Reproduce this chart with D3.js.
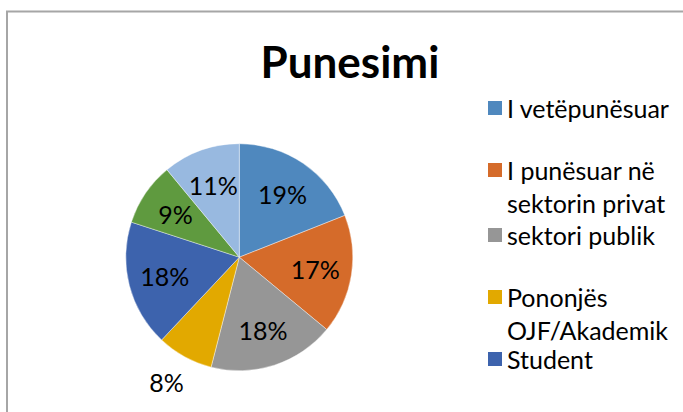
<!DOCTYPE html>
<html><head><meta charset="utf-8">
<script src="https://cdn.jsdelivr.net/npm/d3@7"></script>
<style>html,body{margin:0;padding:0;background:#fff;overflow:hidden}</style>
</head><body><svg id="c" width="683" height="412"></svg>
<script>
const title = "Punesimi";
const sliceValues = [19, 17, 18, 8, 18, 9, 11];
const sliceColors = ["#4F88BE", "#D56B2A", "#969696", "#E2A900", "#3D63AD", "#5F9A3F", "#98B9E0"];
const legendLabels = [["I vetëpunësuar"], ["I punësuar në", "sektorin privat"], ["sektori publik"], ["Pononjës", "OJF/Akademik"], ["Student"]];

const svg = d3.select("#c");
const font = "Lato, 'Open Sans', sans-serif";

// chart border
svg.append("path").attr("d", "M7,420 L7,11.5 L700,11.5").attr("fill", "none").attr("stroke", "#A6A6A6").attr("stroke-width", 2);

svg.append("text").attr("x", 350).attr("y", 78).attr("text-anchor", "middle")
  .attr("font-family", font).attr("font-weight", 700).attr("font-size", 44).attr("fill", "#000").text(title);

const cx = 239.3, cy = 257.2, R = 113.5;
const pie = d3.pie().sort(null).value(d => d);
const arcs = pie(sliceValues);
const arc = d3.arc().innerRadius(0).outerRadius(R);
const g = svg.append("g").attr("transform", `translate(${cx},${cy})`);
g.selectAll("path.s").data(arcs).join("path").attr("class", "s")
  .attr("d", arc).attr("fill", (d, i) => sliceColors[i]).attr("stroke", "#fff").attr("stroke-width", 0.4);

const total = d3.sum(sliceValues);
g.selectAll("text.l").data(arcs).join("text").attr("class", "l")
  .each(function(d) {
    const a = (d.startAngle + d.endAngle) / 2;
    const r = d.data / total < 0.085 ? 143 : 77;
    d3.select(this).attr("x", Math.sin(a) * r - (r > 100 ? 4 : 0)).attr("y", -Math.cos(a) * r);
  })
  .attr("text-anchor", "middle").attr("dominant-baseline", "central")
  .attr("font-family", font).attr("font-size", 25).attr("fill", "#000")
  .text(d => Math.round(d.data / total * 100) + "%");

// legend
const rowY = [108, 170, 235, 297, 359];
const lineH = 32.5;
const lg = svg.append("g");
legendLabels.forEach((lines, i) => {
  lg.append("rect").attr("x", 488).attr("y", rowY[i] - 7).attr("width", 14).attr("height", 14).attr("fill", sliceColors[i]);
  lines.forEach((t, j) => {
    lg.append("text").attr("x", 507).attr("y", rowY[i] + j * lineH).attr("dominant-baseline", "central")
      .attr("font-family", font).attr("font-size", 25).attr("fill", "#000").text(t);
  });
});
</script></body></html>
